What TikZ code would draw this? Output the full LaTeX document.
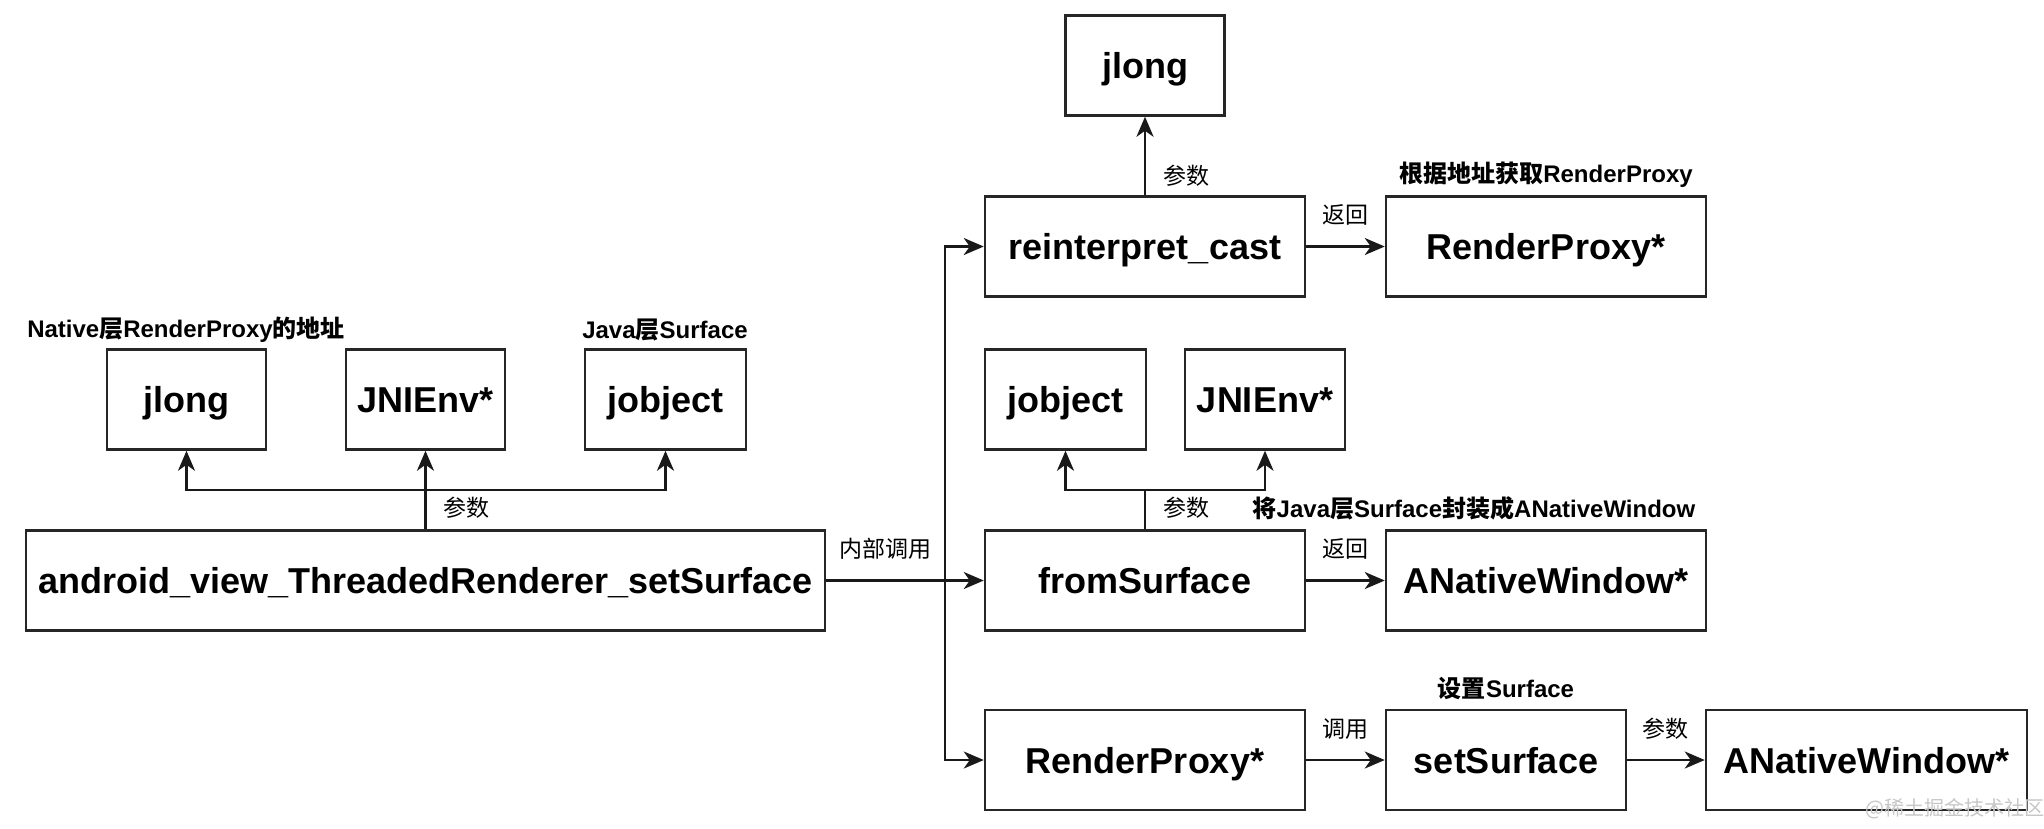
\documentclass[tikz,border=0pt]{standalone}
\usepackage{fontspec}
\setmainfont{Liberation Sans}
\newfontfamily\cjk{Noto Sans CJK SC}
\usetikzlibrary{arrows.meta}
\begin{document}
\begin{tikzpicture}[x=1pt,y=-1pt,
  box/.style={draw=black!85,line width=2.5pt,minimum height=100pt,inner sep=0pt,text height=26pt,text depth=0pt,font=\fontsize{36}{40}\selectfont\bfseries},
  arr/.style={line width=2.5pt,draw=black!90,-{Stealth[length=20pt,width=17pt,inset=6pt]}},
  ln/.style={line width=2.5pt,draw=black!90},
  lab/.style={font=\fontsize{23}{26}\selectfont\cjk,inner sep=0pt},
  blab/.style={font=\fontsize{24}{26}\selectfont\bfseries,inner sep=0pt}]
\useasboundingbox (0,0) rectangle (2044,828);
\fill[white] (0,0) rectangle (2044,828);
% left part
\node[box,minimum width=799pt] (big) at (425.5,580.5) {android\_view\_ThreadedRenderer\_setSurface};
\node[box,minimum width=159pt] (jlongL) at (186.5,399.5) {jlong};
\node[box,minimum width=159pt] (jniL) at (425.5,399.5) {JNIEnv*};
\node[box,minimum width=161pt] (jobL) at (665.5,399.5) {jobject};
\node[blab] (labNat) at (186,330) {Native{\cjk\bfseries 层}RenderProxy{\cjk\bfseries 的地址}};
\node[blab] (labJava) at (665,330) {Java{\cjk\bfseries 层}Surface};
\coordinate (bj) at (425.5,490);
\draw[arr] (big.north) -- (jniL.south);
\draw[arr] (bj) -| (jlongL.south);
\draw[arr] (bj) -| (jobL.south);
\node[lab] (p1) at (466,508) {参数};
% right part
\node[box,minimum width=320pt] (reint) at (1145,246.5) {reinterpret\_cast};
\node[box,minimum width=159pt] (jlongT) at (1145,65.5) {jlong};
\node[box,minimum width=320pt] (rp) at (1546,246.5) {RenderProxy*};
\node[box,minimum width=161pt] (jobR) at (1065.5,399.5) {jobject};
\node[box,minimum width=160pt] (jniR) at (1265,399.5) {JNIEnv*};
\node[box,minimum width=320pt] (fromS) at (1145,580.5) {fromSurface};
\node[box,minimum width=320pt] (anw) at (1546,580.5) {ANativeWindow*};
\node[box,minimum width=320pt] (rpB) at (1145,760) {RenderProxy*};
\node[box,minimum width=240pt] (setS) at (1506,760) {setSurface};
\node[box,minimum width=321pt] (anwB) at (1866.5,760) {ANativeWindow*};
% trunk
\coordinate (tr) at (945,580.5);
\draw[arr] (big.east) -- (fromS.west);
\draw[arr] (tr) |- (reint.west);
\draw[arr] (tr) |- (rpB.west);
\node[lab] (l1) at (885,549) {内部调用};
% reinterpret
\draw[arr] (reint.north) -- (jlongT.south);
\node[lab] (p2) at (1186,176) {参数};
\draw[arr] (reint.east) -- (rp.west);
\node[lab] (r1) at (1345,215) {返回};
\node[blab] (labRP) at (1546,175) {{\cjk\bfseries 根据地址获取}RenderProxy};
% fromSurface
\coordinate (fj) at (1145,490);
\draw[ln] (fromS.north) -- (fj);
\draw[arr] (fj) -| (jobR.south);
\draw[arr] (fj) -| (jniR.south);
\node[lab] (p3) at (1186,508) {参数};
\node[blab] (labW) at (1474,508) {{\cjk\bfseries 将}Java{\cjk\bfseries 层}Surface{\cjk\bfseries 封装成}ANativeWindow};
\draw[arr] (fromS.east) -- (anw.west);
\node[lab] (r2) at (1345,549) {返回};
% bottom row
\draw[arr] (rpB.east) -- (setS.west);
\node[lab] (c1) at (1345,729) {调用};
\draw[arr] (setS.east) -- (anwB.west);
\node[lab] (p4) at (1665,729) {参数};
\node[blab] (labS) at (1506,688) {{\cjk\bfseries 设置}Surface};
% watermark
\node[font=\fontsize{20}{24}\selectfont\cjk,text=black!22,inner sep=0pt] (wm) at (1955,809) {@稀土掘金技术社区};
\end{tikzpicture}
\end{document}
